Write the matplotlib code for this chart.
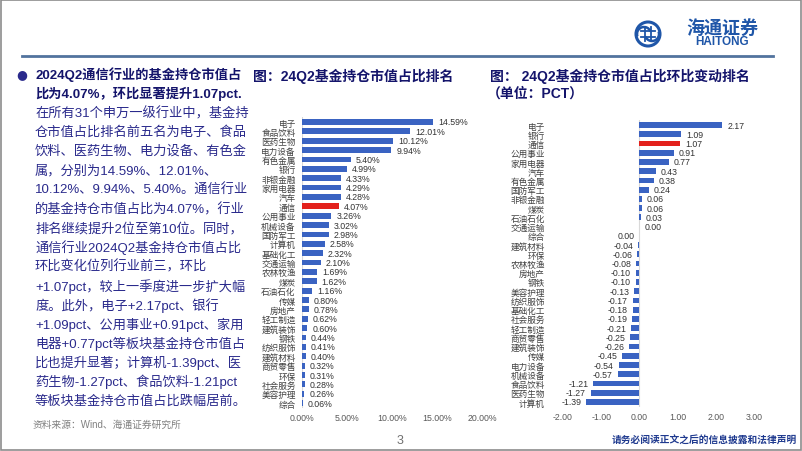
import numpy as np
import matplotlib
matplotlib.use("Agg")
import matplotlib.pyplot as plt
from matplotlib.patches import Rectangle, Circle, Arc
from matplotlib.lines import Line2D

plt.rcParams['font.family'] = ['Liberation Sans', 'Noto Sans CJK SC', 'DejaVu Sans']

# ---- data: fund holding share by industry, 24Q2 ----
share_names = ["电子", "食品饮料", "医药生物", "电力设备", "有色金属", "银行", "非银金融",
               "家用电器", "汽车", "通信", "公用事业", "机械设备", "国防军工", "计算机",
               "基础化工", "交通运输", "农林牧渔", "煤炭", "石油石化", "传媒", "房地产",
               "轻工制造", "建筑装饰", "钢铁", "纺织服饰", "建筑材料", "商贸零售", "环保",
               "社会服务", "美容护理", "综合"]
share_vals = [14.59, 12.01, 10.12, 9.94, 5.40, 4.99, 4.33, 4.29, 4.28, 4.07, 3.26, 3.02,
              2.98, 2.58, 2.32, 2.10, 1.69, 1.62, 1.16, 0.80, 0.78, 0.62, 0.60, 0.44,
              0.41, 0.40, 0.32, 0.31, 0.28, 0.26, 0.06]

# ---- data: quarter-on-quarter change (pct) ----
chg_names = ["电子", "银行", "通信", "公用事业", "家用电器", "汽车", "有色金属", "国防军工",
             "非银金融", "煤炭", "石油石化", "交通运输", "综合", "建筑材料", "环保", "农林牧渔",
             "房地产", "钢铁", "美容护理", "纺织服饰", "基础化工", "社会服务", "轻工制造",
             "商贸零售", "建筑装饰", "传媒", "电力设备", "机械设备", "食品饮料", "医药生物", "计算机"]
chg_vals = [2.17, 1.09, 1.07, 0.91, 0.77, 0.43, 0.38, 0.24, 0.06, 0.06, 0.03, 0.00, -0.0,
            -0.04, -0.06, -0.08, -0.10, -0.10, -0.13, -0.17, -0.18, -0.19, -0.21, -0.25,
            -0.26, -0.45, -0.54, -0.57, -1.21, -1.27, -1.39]

share_ticks = [0, 5, 10, 15, 20]
chg_ticks = [-2, -1, 0, 1, 2, 3]
highlight = "通信"

body_lines = [
    ("2024Q2通信行业的基金持仓市值占", True),
    ("比为4.07%，环比显著提升1.07pct.", True),
    ("在所有31个申万一级行业中，基金持", False),
    ("仓市值占比排名前五名为电子、食品", False),
    ("饮料、医药生物、电力设备、有色金", False),
    ("属，分别为14.59%、12.01%、", False),
    ("10.12%、9.94%、5.40%。通信行业", False),
    ("的基金持仓市值占比为4.07%，行业", False),
    ("排名继续提升2位至第10位。同时，", False),
    ("通信行业2024Q2基金持仓市值占比", False),
    ("环比变化位列行业前三，环比", False),
    ("+1.07pct，较上一季度进一步扩大幅", False),
    ("度。此外，电子+2.17pct、银行", False),
    ("+1.09pct、公用事业+0.91pct、家用", False),
    ("电器+0.77pct等板块基金持仓市值占", False),
    ("比也提升显著；计算机-1.39pct、医", False),
    ("药生物-1.27pct、食品饮料-1.21pct", False),
    ("等板块基金持仓市值占比跌幅居前。", False),
]

W, H = 802, 452
BLUE = "#3A63C2"
RED = "#E3211C"
NAVY = "#2A2A8C"

fig = plt.figure(figsize=(W / 100, H / 100), dpi=100)


def fx(x):
    return x / W


def fy(y):
    return 1 - y / H


# slide frame and header
fig.add_artist(Rectangle((fx(0.5), fy(450.5)), fx(800), 450 / H, transform=fig.transFigure,
                         fill=False, edgecolor="#8C8C8C", lw=1.2))
fig.add_artist(Line2D([fx(22), fx(773)], [fy(57), fy(57)], transform=fig.transFigure,
                      color="#52739E", lw=2))

# logo (approximate)
lc = "#1F56A8"
ex, ey = 648, H - 35
fig.add_artist(Circle((ex, ey), 12, transform=None, fill=False, edgecolor=lc, lw=2.2))
fig.add_artist(Arc((ex - 4, ey), 14, 14, theta1=20, theta2=200, transform=None, color=lc, lw=1.8))
fig.add_artist(Arc((ex + 4, ey), 14, 14, theta1=200, theta2=380, transform=None, color=lc, lw=1.8))
for dy in (-3, 3):
    fig.add_artist(Line2D([ex - 7, ex + 7], [ey + dy, ey + dy], transform=None, color=lc, lw=1.3))
for dx in (-3, 3):
    fig.add_artist(Line2D([ex + dx, ex + dx], [ey - 7, ey + 7], transform=None, color=lc, lw=1.3))
fig.text(fx(722), fy(28), "海通证券", color=lc, fontsize=13, fontweight="bold",
         ha="center", va="center", style="italic", family=["Noto Sans CJK SC"])
fig.text(fx(722), fy(42), "HAITONG", color=lc, fontsize=8.5, fontweight="bold",
         ha="center", va="center")

# left body text
fig.text(fx(22), fy(75), "●", color=NAVY, fontsize=9, ha="center", va="center",
         family=["DejaVu Sans"])
for i, (line, bold) in enumerate(body_lines):
    fig.text(fx(35), fy(75 + i * 19.2), line, color="#14146B" if bold else NAVY,
             fontsize=9.5, fontweight="bold" if bold else "normal", va="center", ha="left")
fig.text(fx(33), fy(425), "资料来源：Wind、海通证券研究所", color="#808080", fontsize=7,
         va="center", ha="left")

# chart titles
fig.text(fx(253), fy(76), "图：24Q2基金持仓市值占比排名", color="#14146B", fontsize=10,
         fontweight="bold", va="center")
fig.text(fx(490), fy(76), "图： 24Q2基金持仓市值占比环比变动排名", color="#14146B", fontsize=10,
         fontweight="bold", va="center")
fig.text(fx(487), fy(94), "（单位：PCT）", color="#14146B", fontsize=10,
         fontweight="bold", va="center")

# footer
fig.text(fx(400), fy(441), "3", color="#707070", fontsize=9, ha="center", va="center")
fig.text(fx(797), fy(441), "请务必阅读正文之后的信息披露和法律声明", color="#1F3A8F",
         fontsize=7, fontweight="bold", ha="right", va="center")


def style_axis(ax, names, ticks, fmt, label_pad):
    n = len(names)
    ax.set_ylim(n - 0.5, -0.5)
    ax.set_yticks(range(n))
    ax.set_yticklabels(names, fontsize=6.2, color="#404040", family=["Noto Sans CJK SC"])
    ax.set_xticks(ticks)
    ax.set_xticklabels([fmt(t) for t in ticks], fontsize=6.3, color="#595959")
    ax.tick_params(axis="both", length=0)
    ax.tick_params(axis="y", pad=label_pad)
    ax.tick_params(axis="x", pad=4)
    for s in ax.spines.values():
        s.set_visible(False)
    ax.axvline(0, color="#D9D9D9", lw=0.8, zorder=0)


# chart 1: share ranking
ax1 = fig.add_axes([fx(302), fy(408.8), 180 / W, 290.5 / H])
y1 = np.arange(len(share_names))
colors1 = [RED if n == highlight else BLUE for n in share_names]
ax1.barh(y1, share_vals, height=0.62, color=colors1)
ax1.set_xlim(0, 20)
style_axis(ax1, share_names, share_ticks, lambda t: f"{t:.2f}%", 4.5)
for yi, v in zip(y1, share_vals):
    ax1.annotate(f"{v:.2f}%", (v, yi), xytext=(3.5, 0), textcoords="offset points",
                 ha="left", va="center", fontsize=6.3, color="#333333")

# chart 2: change ranking
ax2 = fig.add_axes([fx(563), fy(407.6), 191 / W, 286.2 / H])
y2 = np.arange(len(chg_names))
colors2 = [RED if n == highlight else BLUE for n in chg_names]
ax2.barh(y2, chg_vals, height=0.62, color=colors2)
ax2.set_xlim(-2, 3)
style_axis(ax2, chg_names, chg_ticks, lambda t: f"{t:.2f}", 13)
for yi, v in zip(y2, chg_vals):
    neg = np.signbit(v)
    txt = f"{v:.2f}" if v != 0 else "0.00"
    ax2.annotate(txt, (v, yi), xytext=(-3.5 if neg else 3.5, 0), textcoords="offset points",
                 ha="right" if neg else "left", va="center", fontsize=6.3, color="#333333")

fig.savefig("out.png", dpi=100)
